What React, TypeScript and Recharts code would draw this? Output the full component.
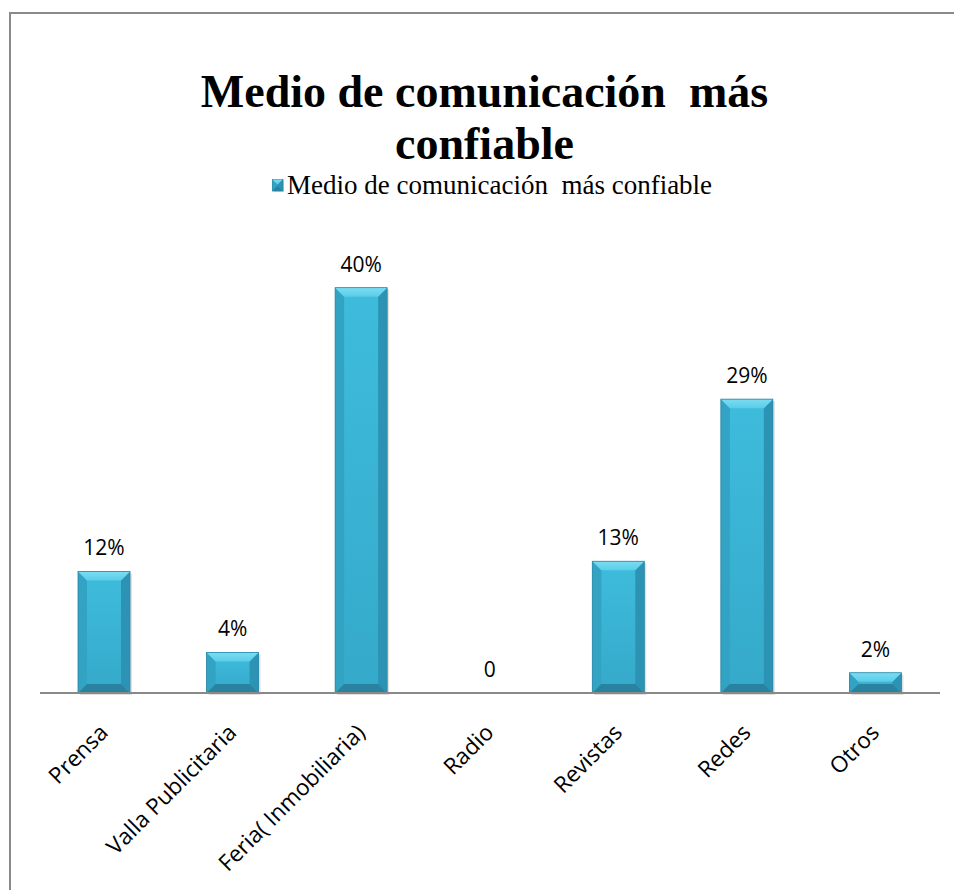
import { Bar, BarChart, LabelList, XAxis, YAxis } from "recharts";

const categories = [
  "Prensa",
  "Valla Publicitaria",
  "Feria( Inmobiliaria)",
  "Radio",
  "Revistas",
  "Redes",
  "Otros",
];
const shares = [12, 4, 40, 0, 13, 29, 2];
const seriesName = "Medio de comunicación  más confiable";
const titleLines = ["Medio de comunicación  más", "confiable"];

const rows = categories.map((name, i) => ({ name, value: shares[i] }));

const serif = "'Liberation Serif', 'Times New Roman', serif";
const sans = "'Open Sans', 'Noto Sans', sans-serif";

// bevelled column: light top edge, darker sides and bottom
function BevelBar(props: any) {
  const { x, y, width: w, height: h } = props;
  if (!h || h <= 0) return null;
  const b = Math.min(9, h / 2, w / 2);
  return (
    <g>
      <rect x={x + 2} y={y + 2} width={w} height={h} fill="#000" opacity={0.12} />
      <rect x={x} y={y} width={w} height={h} fill="url(#face)" />
      <polygon
        points={`${x},${y} ${x + b},${y + b} ${x + b},${y + h - b} ${x},${y + h}`}
        fill="#33A3C4"
      />
      <polygon
        points={`${x + w},${y} ${x + w - b},${y + b} ${x + w - b},${y + h - b} ${x + w},${y + h}`}
        fill="#2D93B4"
      />
      <polygon
        points={`${x},${y} ${x + w},${y} ${x + w - b},${y + b} ${x + b},${y + b}`}
        fill="url(#topEdge)"
      />
      <polygon
        points={`${x},${y + h} ${x + w},${y + h} ${x + w - b},${y + h - b} ${x + b},${y + h - b}`}
        fill="#2A82A1"
      />
      <rect x={x} y={y} width={w} height={h} fill="none" stroke="#2A86A5" strokeWidth={0.8} />
    </g>
  );
}

function ValueLabel(props: any) {
  const { x, y, width, value } = props;
  return (
    <text
      x={x + width / 2}
      y={y - 16}
      textAnchor="middle"
      fontFamily={sans}
      fontSize={21}
      fill="#000"
    >
      {value === 0 ? "0" : `${value}%`}
    </text>
  );
}

function CategoryTick(props: any) {
  const { x, y, payload } = props;
  const ax = x + 5;
  const ay = y + 41;
  return (
    <text
      x={ax}
      y={ay}
      textAnchor="end"
      transform={`rotate(-45 ${ax} ${ay})`}
      fontFamily={sans}
      fontSize={22.5}
      fill="#000"
    >
      {payload.value}
    </text>
  );
}

export default function App() {
  return (
    <div
      style={{
        position: "absolute",
        left: 0,
        top: 0,
        width: 954,
        height: 890,
        overflow: "hidden",
        background: "#fff",
      }}
    >
      <div
        style={{
          position: "absolute",
          left: 9,
          top: 12,
          width: 1000,
          height: 1000,
          border: "2px solid #8a8a8a",
        }}
      />
      <div
        style={{
          position: "absolute",
          left: 9,
          top: 66,
          width: 951,
          textAlign: "center",
          fontFamily: serif,
          fontWeight: "bold",
          fontSize: 46,
          lineHeight: "52px",
          whiteSpace: "pre",
        }}
      >
        {titleLines.map((t) => (
          <div key={t}>{t}</div>
        ))}
      </div>
      <div
        style={{
          position: "absolute",
          left: 272,
          top: 172,
          display: "flex",
          alignItems: "center",
          fontFamily: serif,
          fontSize: 27,
          lineHeight: "27px",
          whiteSpace: "pre",
        }}
      >
        <svg width={12} height={13} style={{ marginRight: 3 }}>
          <BevelBar x={0} y={0} width={11} height={12} />
        </svg>
        <span>{seriesName}</span>
      </div>
      <div style={{ position: "absolute", left: 0, top: 0 }}>
        <BarChart
          width={954}
          height={890}
          data={rows}
          margin={{ top: 237, right: 14, bottom: 167, left: 40 }}
        >
          <defs>
            <linearGradient id="face" x1="0" y1="0" x2="0" y2="1">
              <stop offset="0%" stopColor="#3EBCDC" />
              <stop offset="100%" stopColor="#35A9CA" />
            </linearGradient>
            <linearGradient id="topEdge" x1="0" y1="0" x2="0" y2="1">
              <stop offset="0%" stopColor="#7ADDF2" />
              <stop offset="100%" stopColor="#5BCDE8" />
            </linearGradient>
          </defs>
          <XAxis
            dataKey="name"
            interval={0}
            height={30}
            tickLine={false}
            tickSize={0}
            tickMargin={0}
            axisLine={{ stroke: "#898989", strokeWidth: 2 }}
            tick={<CategoryTick />}
          />
          <YAxis hide domain={[0, 45]} />
          <Bar
            dataKey="value"
            name={seriesName}
            barSize={52}
            shape={<BevelBar />}
            isAnimationActive={false}
          >
            <LabelList dataKey="value" content={<ValueLabel />} />
          </Bar>
        </BarChart>
      </div>
    </div>
  );
}
